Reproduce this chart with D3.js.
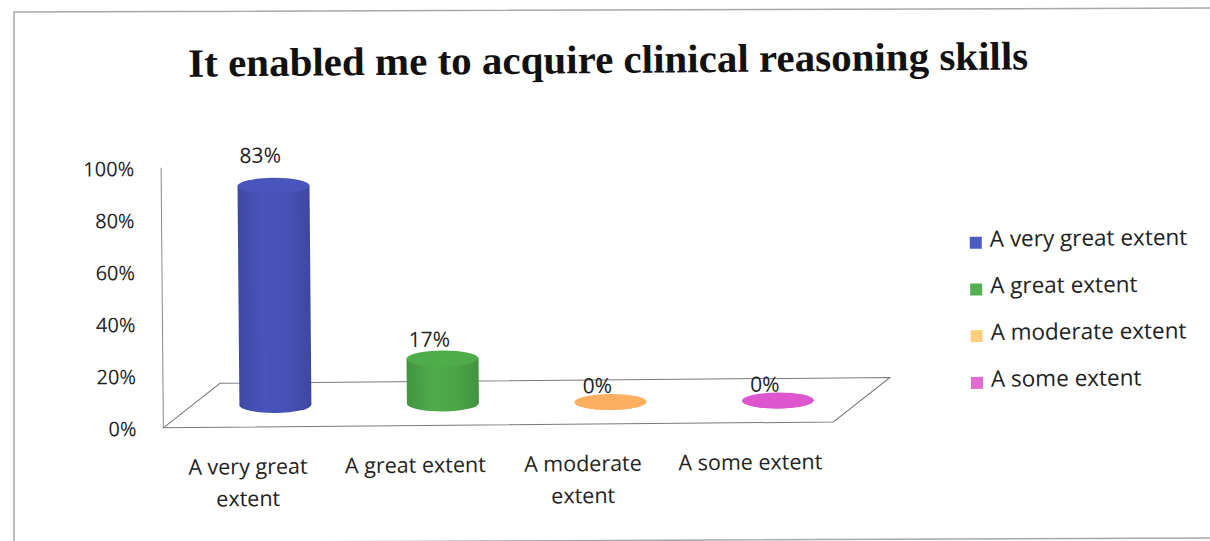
<!DOCTYPE html>
<html>
<head>
<meta charset="utf-8">
<script src="https://cdn.jsdelivr.net/npm/d3@7"></script>
<style>
  body { margin: 0; background: #fff; }
  svg text { font-family: "Open Sans", Lato, sans-serif; fill: #222; }
</style>
</head>
<body>
<script>
// data
var categories = ["A very great extent", "A great extent", "A moderate extent", "A some extent"];
var values = [0.83, 0.17, 0, 0];
var yTicks = [0, 0.2, 0.4, 0.6, 0.8, 1];
var chartTitle = "It enabled me to acquire clinical reasoning skills";

var barColors = ["#4651b5", "#4ba547", "#f2a85c", "#d552c4"];
var keyColors = ["#4c5cc2", "#52b052", "#fbcf7e", "#e06cd2"];

var width = 1210, height = 541;

var svg = d3.select("body").append("svg")
    .attr("width", width)
    .attr("height", height);

// scanned page frame
svg.append("path")
    .attr("d", "M1210,8 L14,12 L14,541 M14,543 L1210,538")
    .attr("fill", "none")
    .attr("stroke", "#a8a8a8")
    .attr("stroke-width", 1.5);

// whole scan is turned a little
var g = svg.append("g").attr("transform", "rotate(-0.5,605,270)");

g.append("text")
    .attr("x", 610)
    .attr("y", 73)
    .attr("text-anchor", "middle")
    .attr("textLength", 840)
    .attr("lengthAdjust", "spacingAndGlyphs")
    .style("font-family", "'Liberation Serif', 'Times New Roman', serif")
    .style("font-weight", "bold")
    .style("font-size", "40px")
    .style("fill", "#111")
    .text(chartTitle);

// plot geometry
var front = {left: 162, right: 832};
var depth = {dx: 57, dy: 44};

var y = d3.scaleLinear().domain([0, 1]).range([425, 165]);
var floorY = y(0) - 1;
var h = d3.scaleLinear().domain([0, 1]).range([0, 264]);   // cylinder height
var labelLift = d3.scaleLinear().domain([0, 1]).range([9, 290]);

var x = d3.scaleBand()
    .domain(categories)
    .range([front.left + depth.dx / 2, front.right + depth.dx / 2])
    .padding(0);

var color = d3.scaleOrdinal(categories, barColors);
var keyColor = d3.scaleOrdinal(categories, keyColors);

// y axis labels
var yAxis = g.append("g")
    .attr("transform", "translate(" + front.left + ",0)")
    .call(d3.axisLeft(y).tickValues(yTicks).tickFormat(d3.format(".0%")).tickSize(0).tickPadding(27));
yAxis.select(".domain").remove();
yAxis.selectAll("text")
    .style("font-family", "'Open Sans', Lato, sans-serif")
    .style("font-size", "20px")
    .style("fill", "#222");

// side wall edge and floor
g.append("line")
    .attr("x1", front.left).attr("x2", front.left)
    .attr("y1", y(1) - 1).attr("y2", floorY)
    .attr("stroke", "#888").attr("stroke-width", 1);

g.append("path")
    .attr("d", "M" + front.left + "," + floorY +
        " L" + (front.left + depth.dx) + "," + (floorY - depth.dy) +
        " L" + (front.right + depth.dx) + "," + (floorY - depth.dy) +
        " L" + front.right + "," + floorY + " Z")
    .attr("fill", "none")
    .attr("stroke", "#7a7a7a")
    .attr("stroke-width", 1);

// gradients for the cylinder sides
var defs = svg.append("defs");
categories.forEach(function(c, i) {
    var base = d3.color(color(c));
    var grad = defs.append("linearGradient")
        .attr("id", "grad" + i)
        .attr("x1", "0%").attr("x2", "100%");
    grad.append("stop").attr("offset", "0%").attr("stop-color", base.darker(0.3));
    grad.append("stop").attr("offset", "35%").attr("stop-color", base.brighter(0.1));
    grad.append("stop").attr("offset", "70%").attr("stop-color", base);
    grad.append("stop").attr("offset", "100%").attr("stop-color", base.darker(0.35));
});

var rx = 36, ry = 8;
var baseY = floorY - depth.dy / 2;

var bars = g.selectAll(".cyl")
    .data(categories)
    .enter()
    .append("g")
    .attr("class", "cyl");

bars.append("path")
    .attr("d", function(c, i) {
        var cx = x(c) + x.bandwidth() / 2;
        var top = baseY - h(values[i]);
        return "M" + (cx - rx) + "," + top +
            " L" + (cx - rx) + "," + baseY +
            " A" + rx + "," + ry + " 0 0 0 " + (cx + rx) + "," + baseY +
            " L" + (cx + rx) + "," + top + " Z";
    })
    .attr("fill", function(c, i) { return "url(#grad" + i + ")"; });

bars.append("ellipse")
    .attr("cx", function(c) { return x(c) + x.bandwidth() / 2; })
    .attr("cy", function(c, i) { return baseY - h(values[i]); })
    .attr("rx", rx)
    .attr("ry", ry)
    .attr("fill", function(c) { return d3.color(color(c)).brighter(0.12); });

bars.append("text")
    .attr("x", function(c) { return x(c) + x.bandwidth() / 2 - 13; })
    .attr("y", function(c, i) { return baseY - labelLift(values[i]); })
    .attr("text-anchor", "middle")
    .style("font-size", "21px")
    .text(function(c, i) { return d3.format(".0%")(values[i]); });

// category labels, wrapped like the original
var catLabels = g.selectAll(".cat")
    .data(categories)
    .enter()
    .append("text")
    .attr("class", "cat")
    .attr("x", function(c) { return x(c) + x.bandwidth() / 2 - 28; })
    .attr("y", 471)
    .attr("text-anchor", "middle")
    .style("font-size", "21.5px");

catLabels.each(function(c) {
    var el = d3.select(this);
    var words = c.split(" ");
    var line = [];
    var lines = [];
    var probe = el.append("tspan");
    words.forEach(function(w) {
        line.push(w);
        probe.text(line.join(" "));
        if (probe.node().getComputedTextLength() > 160 && line.length > 1) {
            line.pop();
            lines.push(line.join(" "));
            line = [w];
        }
    });
    lines.push(line.join(" "));
    probe.remove();
    var cx = el.attr("x");
    lines.forEach(function(t, k) {
        el.append("tspan")
            .attr("x", cx)
            .attr("dy", k === 0 ? 0 : 32)
            .text(t);
    });
});

// legend
var legend = g.selectAll(".key")
    .data(categories)
    .enter()
    .append("g")
    .attr("class", "key")
    .attr("transform", function(c, i) { return "translate(970," + (250 + i * 46.7) + ")"; });

legend.append("rect")
    .attr("x", 0)
    .attr("y", -10)
    .attr("width", 12)
    .attr("height", 12)
    .attr("fill", function(c) { return keyColor(c); });

legend.append("text")
    .attr("x", 20)
    .attr("y", 0)
    .style("font-size", "22.5px")
    .text(function(c) { return c; });
</script>
</body>
</html>
